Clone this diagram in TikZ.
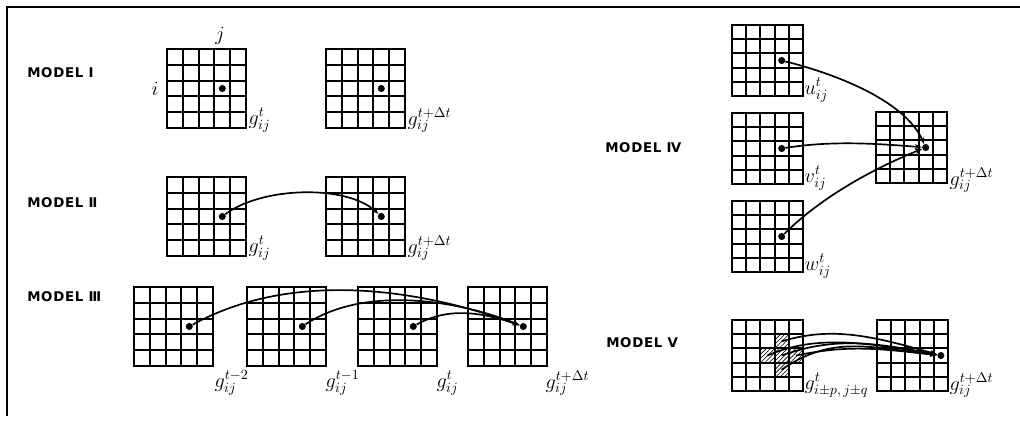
\documentclass[tikz,border=0pt]{standalone}
\usepackage{fontspec}
\newfontfamily\lettering[LetterSpace=5]{DejaVu Sans}
\usetikzlibrary{patterns, arrows.meta, calc}

\tikzset{
  pics/cellgrid/.style={code={
    \draw[gridline] (0,0) rectangle (5*#1,5*#1);
    \foreach \k in {1,...,4}{
      \draw[gridline] (\k*#1,0) -- (\k*#1,5*#1);
      \draw[gridline] (0,\k*#1) -- (5*#1,\k*#1);
    }
    \foreach \r in {1,...,5}{
      \foreach \c in {1,...,5}{
        \coordinate (-\r\c) at ({(\c-0.5)*#1},{(\r-0.5)*#1});
      }
    }
  }}
}

\begin{document}
\begin{tikzpicture}[
	x=0.025cm, y=-0.025cm,
	>={Stealth[length=5pt, width=3.5pt]},
	gridline/.style={line width=1.3pt, line cap=rect},
	frame/.style={line width=1.4pt},
	dot/.style={circle, fill=black, inner sep=0pt, minimum size=5pt},
	link/.style={->, line width=1.2pt},
	model/.style={anchor=west, inner sep=0pt, font=\lettering\bfseries\fontsize{9.5}{11}\selectfont},
	field/.style={anchor=west, inner sep=1pt, font=\Large},
	hatch/.style={pattern=north east lines}
	]
	
	\useasboundingbox (0,0) rectangle (1020,423);
	\def\cellL{15.8} % cell size, left column
	\def\cellR{14.2} % cell size, right column
	
	% Frame
	\draw[frame] (7,416) -- (7,7) -- (1020,7);
	
	% --- MODEL I ---
	\node[model] (m1) at (27,73) {MODEL Ⅰ};
	\pic (g1a) at (167,49) {cellgrid=\cellL};
	\pic (g1b) at (326,49) {cellgrid=\cellL};
	\node[dot] (d1a) at (g1a-34) {};
	\node[dot] (d1b) at (g1b-34) {};
	\node[font=\Large] (lj) at (220,36) {$j$};
	\node[font=\Large] (li) at (155,89) {$i$};
	\node[field] (l1a) at (247,120) {$g^{t}_{ij}$};
	\node[field] (l1b) at (406,120) {$g^{t+\Delta t}_{ij}$};
	
	% --- MODEL II ---
	\node[model] (m2) at (27,203) {MODEL Ⅱ};
	\pic (g2a) at (167,177) {cellgrid=\cellL};
	\pic (g2b) at (326,177) {cellgrid=\cellL};
	\node[dot] (d2a) at (g2a-34) {};
	\node[dot] (d2b) at (g2b-34) {};
	\node[field] (l2a) at (247,248) {$g^{t}_{ij}$};
	\node[field] (l2b) at (406,248) {$g^{t+\Delta t}_{ij}$};
	\draw[link] (d2a) .. controls +(40,-30) and +(-35,-32) .. (d2b);
	
	% --- MODEL III ---
	\node[model] (m3) at (27,297) {MODEL Ⅲ};
	\pic (g3a) at (134,287) {cellgrid=\cellL};
	\pic (g3b) at (247,287) {cellgrid=\cellL};
	\pic (g3c) at (358,287) {cellgrid=\cellL};
	\pic (g3d) at (468,287) {cellgrid=\cellL};
	\node[dot] (d3a) at (g3a-34) {};
	\node[dot] (d3b) at (g3b-34) {};
	\node[dot] (d3c) at (g3c-34) {};
	\node[dot] (d3d) at (g3d-34) {};
	\node[field] (l3a) at (213,383) {$g^{t-2}_{ij}$};
	\node[field] (l3b) at (324,383) {$g^{t-1}_{ij}$};
	\node[field] (l3c) at (435,383) {$g^{t}_{ij}$};
	\node[field] (l3d) at (544,383) {$g^{t+\Delta t}_{ij}$};
	\draw[link] (d3a) .. controls +(100,-55) and +(-110,-40) .. (d3d);
	\draw[link] (d3b) .. controls +(60,-40) and +(-70,-28) .. (d3d);
	\draw[link] (d3c) .. controls +(35,-20) and +(-40,-14) .. (d3d);
	
	% --- MODEL IV ---
	\node[model] (m4) at (605,148) {MODEL Ⅳ};
	\pic (g4u) at (732,25) {cellgrid=\cellR};
	\pic (g4v) at (732,113) {cellgrid=\cellR};
	\pic (g4w) at (732,201) {cellgrid=\cellR};
	\pic (g4g) at (876,112) {cellgrid=\cellR};
	\node[dot] (d4u) at (g4u-34) {};
	\node[dot] (d4v) at (g4v-34) {};
	\node[dot] (d4w) at (g4w-34) {};
	\node[dot] (d4g) at (g4g-34) {};
	\node[field] (l4u) at (803,90) {$u^{t}_{ij}$};
	\node[field] (l4v) at (803,178) {$v^{t}_{ij}$};
	\node[field] (l4w) at (803,266) {$w^{t}_{ij}$};
	\node[field] (l4g) at (948,180) {$g^{t+\Delta t}_{ij}$};
	\draw[link] (d4u) .. controls +(60,15) and +(-20,-45) .. (d4g);
	\draw[link] (d4v) .. controls +(50,-8) and +(-50,-4) .. (d4g);
	\draw[link] (d4w) .. controls +(40,-40) and +(-50,20) .. (d4g);
	
	% --- MODEL V ---
	\node[model] (m5) at (606,343) {MODEL Ⅴ};
	\pic (g5a) at (732,320) {cellgrid=\cellR};
	\pic (g5b) at (877,320) {cellgrid=\cellR};
	\foreach \c in {24,33,34,35,44}
	  \fill[hatch] ($(g5a-\c)+(-7.1,-7.1)$) rectangle ++(14.2,14.2);
	\node[dot] (d5b) at (g5b-35) {};
	\node[field] (l5a) at (803,385) {$g^{t}_{i\pm p,\,j\pm q}$};
	\node[field] (l5b) at (948,385) {$g^{t+\Delta t}_{ij}$};
	\foreach \c/\a/\b in {24/15/20, 33/22/12, 34/18/14, 35/10/8, 44/35/8}
	  \draw[link] (g5a-\c) .. controls +(50,-\a) and +(-70,-\b) .. (d5b);
	
\end{tikzpicture}
\end{document}
